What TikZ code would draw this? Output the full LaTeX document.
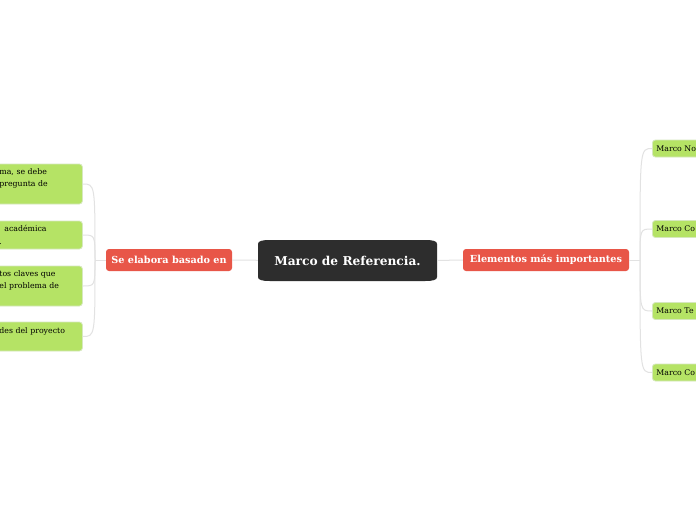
\documentclass[tikz,border=0pt]{standalone}
\usepackage{fontspec}
\setmainfont{DejaVu Serif}
\definecolor{ink}{RGB}{45,45,45}
\definecolor{tomato}{RGB}{232,86,72}
\definecolor{leaf}{RGB}{181,227,101}
\definecolor{leafline}{RGB}{214,232,190}
\definecolor{twig}{RGB}{226,226,226}
\begin{document}
\begin{tikzpicture}[x=1pt, y=-1pt,
    topic/.style={fill=tomato, text=white, rounded corners=3pt, minimum height=22pt, font=\bfseries\fontsize{9.7}{11}\selectfont},
    leafbox/.style={fill=leaf, draw=leafline, line width=0.8pt, rounded corners=3pt, anchor=west, align=left, inner xsep=4pt, font=\fontsize{7.8}{12.5}\selectfont},
    branch/.style={draw=twig, line width=1pt}]
        \fill[white] (0,0) rectangle (696,520);
        \useasboundingbox (0,0) rectangle (696,520);
        \fill[ink] (258,277) -- (258,244) .. controls (258,241) and (262,240) .. (270,240) -- (425,240) .. controls (433,240) and (437,241) .. (437,244) -- (437,277) .. controls (437,280) and (433,281) .. (425,281) -- (270,281) .. controls (262,281) and (258,280) .. (258,277) -- cycle;
        \node[name=mr, text=white, minimum width=179pt, minimum height=41pt, font=\bfseries\fontsize{12.2}{14}\selectfont] at (347.5,260.5) {Marco de Referencia.};
        \node[name=se, topic, minimum width=126pt] at (169,260) {Se elabora basado en};
        \node[name=el, topic, minimum width=166pt] at (546,260) {Elementos más importantes};
        \node[name=a1, leafbox, text width=79pt, minimum height=40pt] at (-5,184) {ma, se debe\\pregunta de\\\mbox{}};
        \node[name=a2, leafbox, text width=79pt, minimum height=28pt] at (-5,235) {\hspace{5pt}académica\\.};
        \node[name=a3, leafbox, text width=79pt, minimum height=40pt] at (-5,286) {tos claves que\\el problema de\\\mbox{}};
        \node[name=a4, leafbox, text width=79pt, minimum height=29pt] at (-5,336.5) {des del proyecto\\\mbox{}};
        \node[name=b1, leafbox, text width=60pt, minimum height=17pt] at (652,148.5) {Marco No};
        \node[name=b2, leafbox, text width=60pt, minimum height=17pt] at (652,229) {Marco Co};
        \node[name=b3, leafbox, text width=60pt, minimum height=17pt] at (652,311) {Marco Te};
        \node[name=b4, leafbox, text width=60pt, minimum height=17pt] at (652,372.5) {Marco Co};
        \coordinate (lfork) at (95,260);
        \coordinate (rfork) at (640,260);
        \draw[branch] (mr) -- (se);
        \draw[branch] (mr) -- (el);
        \draw[branch] (se.west) -- (lfork);
        \draw[branch] (el.east) -- (rfork);
        \foreach \n in {a1,a2,a3,a4}
            \draw[branch] (lfork) .. controls (lfork |- \n.east) .. (\n.east);
        \foreach \n in {b1,b2,b3,b4}
            \draw[branch] (rfork) .. controls (rfork |- \n.west) .. (\n.west);
    \end{tikzpicture}
\end{document}
